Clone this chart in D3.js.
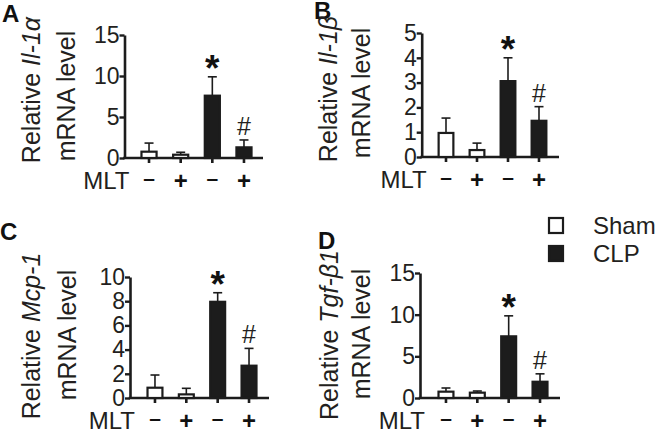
<!DOCTYPE html>
<html><head><meta charset="utf-8">
<script src="https://cdn.jsdelivr.net/npm/d3@7"></script>
<style>
body{margin:0;background:#fff}
svg{display:block}
text{font-family:"Liberation Sans",Arial,Helvetica,sans-serif;fill:#231f20}
</style>
</head><body>
<svg id="chart" width="657" height="432"></svg>
<script>
// ---------- data ----------
const groups = ["Sham MLT-", "Sham MLT+", "CLP MLT-", "CLP MLT+"];
const groupType = ["Sham", "Sham", "CLP", "CLP"];
const mltSigns = ["–", "+", "–", "+"];
const legendLabels = ["Sham", "CLP"];

const il1aMean = [0.77, 0.4, 7.6, 1.3];
const il1aSD   = [1.05, 0.3, 2.3, 0.9];
const il1aTicks = [0, 5, 10, 15];

const il1bMean = [0.97, 0.28, 3.06, 1.46];
const il1bSD   = [0.6, 0.28, 0.94, 0.57];
const il1bTicks = [0, 1, 2, 3, 4, 5];

const mcp1Mean = [0.85, 0.3, 7.95, 2.67];
const mcp1SD   = [1.05, 0.5, 0.75, 1.43];
const mcp1Ticks = [0, 2, 4, 6, 8, 10];

const tgfMean = [0.76, 0.64, 7.4, 1.95];
const tgfSD   = [0.44, 0.2, 2.46, 0.95];
const tgfTicks = [0, 5, 10, 15];

const starMarks = ["", "", "*", ""];
const hashMarks = ["", "", "", "#"];

// ---------- layout ----------
const panels = [
  {letter:"A", gene:"Il-1α", mean:il1aMean, sd:il1aSD, ticks:il1aTicks,
   lx:2, ly:22, axisX:124.5, y0:158, yTop:35, x0:133.2, x1:259.8, baseEnd:263,
   t1:[40,90], t2:[75,96]},
  {letter:"B", gene:"Il-1β", mean:il1bMean, sd:il1bSD, ticks:il1bTicks,
   lx:314, ly:19, axisX:421.7, y0:157, yTop:33, x0:430.5, x1:554.5, baseEnd:559,
   t1:[337,89], t2:[370,93]},
  {letter:"C", gene:"Mcp-1", mean:mcp1Mean, sd:mcp1SD, ticks:mcp1Ticks,
   lx:0, ly:240, axisX:130, y0:398, yTop:277, x0:139.3, x1:264.7, baseEnd:269,
   t1:[40,336], t2:[76,335]},
  {letter:"D", gene:"Tgf-β1", mean:tgfMean, sd:tgfSD, ticks:tgfTicks,
   lx:318, ly:249, axisX:420, y0:398, yTop:273, x0:430.3, x1:555.7, baseEnd:560,
   t1:[338,335], t2:[370,334]}
];

const ink = "#1c1c1c";
const svg = d3.select("#chart");

panels.forEach(p => {
  const g = svg.append("g");
  const maxV = d3.max(p.ticks);
  const y = d3.scaleLinear().domain([0, maxV]).range([p.y0, p.yTop]);
  const x = d3.scaleBand().domain(groups).range([p.x0, p.x1]).paddingInner(0.46).paddingOuter(0.23);
  const bw = x.bandwidth();
  const cx = d => x(d) + bw / 2;

  // panel letter
  g.append("text").attr("x", p.lx).attr("y", p.ly)
    .style("font-size", "24px").style("font-weight", "bold").style("fill", "#111")
    .text(p.letter);

  // y axis
  const ya = g.append("g").attr("transform", `translate(${p.axisX},0)`)
    .call(d3.axisLeft(y).tickValues(p.ticks).tickSize(5).tickSizeOuter(0).tickPadding(0).tickFormat(d3.format("d")));
  ya.select(".domain").attr("stroke", ink).attr("stroke-width", 2.6);
  ya.selectAll(".tick line").attr("stroke", ink).attr("stroke-width", 2.4);
  ya.selectAll(".tick text").style("font-size", "23px").style("font-family", '"Liberation Sans",Arial,sans-serif').attr("fill", "#231f20");

  // x axis baseline + small ticks
  g.append("line").attr("x1", p.axisX - 1.3).attr("x2", p.baseEnd)
    .attr("y1", y(0)).attr("y2", y(0)).attr("stroke", ink).attr("stroke-width", 2.6);
  const xa = g.append("g").attr("transform", `translate(0,${y(0)})`)
    .call(d3.axisBottom(x).tickSize(5).tickFormat(""));
  xa.select(".domain").remove();
  xa.selectAll(".tick line").attr("stroke", ink).attr("stroke-width", 2.6);

  // bars
  groups.forEach((grp, i) => {
    const v = p.mean[i], e = p.sd[i];
    const filled = groupType[i] === "CLP";
    // error bar (upper only)
    g.append("line").attr("x1", cx(grp)).attr("x2", cx(grp))
      .attr("y1", y(v)).attr("y2", y(v + e)).attr("stroke", ink).attr("stroke-width", 1.6);
    g.append("line").attr("x1", cx(grp) - 4.5).attr("x2", cx(grp) + 4.5)
      .attr("y1", y(v + e)).attr("y2", y(v + e)).attr("stroke", ink).attr("stroke-width", 1.6);
    g.append("rect").attr("x", x(grp) + 1).attr("width", bw - 2)
      .attr("y", y(v)).attr("height", y(0) - y(v))
      .attr("fill", filled ? ink : "#fff").attr("stroke", ink).attr("stroke-width", 2.2);
    if (starMarks[i]) {
      g.append("text").attr("x", cx(grp)).attr("y", y(v + e) + 4)
        .attr("text-anchor", "middle").style("font-size", "37px").style("font-weight", "bold").style("fill", "#111")
        .text(starMarks[i]);
    }
    if (hashMarks[i]) {
      g.append("text").attr("x", cx(grp)).attr("y", y(v + e) - 5)
        .attr("text-anchor", "middle").style("font-size", "25px")
        .text(hashMarks[i]);
    }
    // MLT sign
    const isPlus = mltSigns[i] === "+";
    g.append("text").attr("x", cx(grp)).attr("y", y(0) + (isPlus ? 30.5 : 27))
      .attr("text-anchor", "middle").style("font-size", isPlus ? "24px" : "21px").style("font-weight", "bold").style("fill", "#111")
      .text(mltSigns[i]);
  });

  g.append("text").attr("x", p.axisX + 5).attr("y", y(0) + 30.5)
    .attr("text-anchor", "end").style("font-size", "24px").text("MLT");

  // y titles
  const t1 = g.append("text").attr("transform", `translate(${p.t1[0]},${p.t1[1]}) rotate(-90)`)
    .attr("text-anchor", "middle").style("font-size", "25px");
  t1.append("tspan").text("Relative ");
  t1.append("tspan").style("font-style", "italic").text(p.gene);
  g.append("text").attr("transform", `translate(${p.t2[0]},${p.t2[1]}) rotate(-90)`)
    .attr("text-anchor", "middle").style("font-size", "25px").text("mRNA level");
});

// legend
const leg = svg.append("g");
legendLabels.forEach((lab, i) => {
  const yy = i === 0 ? 217 : 245;
  leg.append("rect").attr("x", 549).attr("y", yy + 1).attr("width", 14).attr("height", 15)
    .attr("fill", lab === "CLP" ? ink : "#fff").attr("stroke", ink).attr("stroke-width", 2.2);
  leg.append("text").attr("x", 593).attr("y", yy + 17).style("font-size", "24px").text(lab);
});
</script>
</body></html>
